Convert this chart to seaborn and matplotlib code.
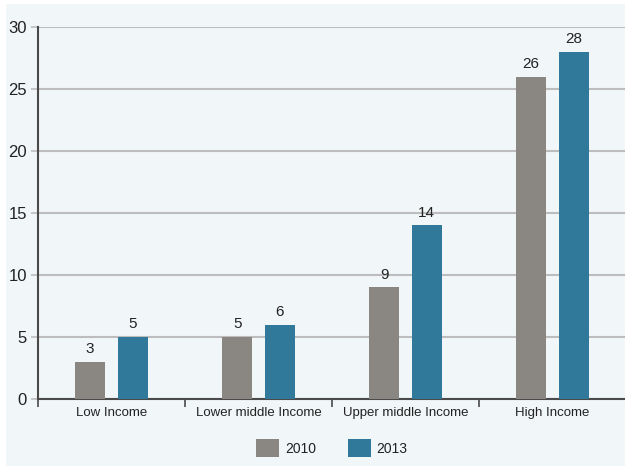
import matplotlib
matplotlib.use("Agg")
import matplotlib.pyplot as plt
from matplotlib.patches import Patch, Rectangle
import numpy as np
import pandas as pd
import seaborn as sns

# Data
groups = ["Low Income", "Lower middle Income", "Upper middle Income", "High Income"]
years = ["2010", "2013"]
values_2010 = [3, 5, 9, 26]
values_2013 = [5, 6, 14, 28]

colors = ["#8a8782", "#31799b"]
bg = "#f1f6f9"

df = pd.DataFrame({
    "group": groups * 2,
    "year": [years[0]] * len(groups) + [years[1]] * len(groups),
    "value": values_2010 + values_2013,
})

sns.set_theme(style="white")
plt.rcParams["font.family"] = ["Liberation Sans", "DejaVu Sans"]

fig = plt.figure(figsize=(6.25, 4.66), dpi=100, facecolor="white")
fig.patches.append(Rectangle((6 / 625, 0), 1, 462 / 466, transform=fig.transFigure,
                             facecolor=bg, edgecolor="none", zorder=-10))

ax = fig.add_axes([38 / 625, 1 - 399 / 466, 588 / 625, (399 - 27) / 466])
ax.set_facecolor(bg)

sns.barplot(data=df, x="group", y="value", hue="year", order=groups, hue_order=years,
            palette=colors, width=0.58, gap=0.31, saturation=1, legend=False,
            linewidth=0, edgecolor="none", ax=ax, zorder=3)

for cont in ax.containers:
    ax.bar_label(cont, fmt="%d", padding=4, fontsize=11, color="#222222")

ax.set_xlim(-0.5, 3.5)
ax.set_ylim(0, 30)
ax.set_yticks(np.arange(0, 31, 5))
ax.set_xlabel("")
ax.set_ylabel("")

ax.yaxis.grid(True, color="#bdbdbd", linewidth=1.5, zorder=0)
ax.set_axisbelow(True)

for s in ["top", "right"]:
    ax.spines[s].set_visible(False)
ax.spines["left"].set_color("#4a4a4a")
ax.spines["left"].set_linewidth(1.5)
ax.spines["bottom"].set_color("#4a4a4a")
ax.spines["bottom"].set_linewidth(1.5)

ax.tick_params(axis="y", which="major", length=5, width=1.2, color="#bdbdbd",
               labelsize=12, pad=3, labelcolor="#222222", left=True)
ax.tick_params(axis="x", which="major", length=0, labelsize=9.5, pad=6,
               labelcolor="#222222")
ax.set_xticks([-0.5, 0.5, 1.5, 2.5], minor=True)
ax.tick_params(axis="x", which="minor", length=6, width=1.2, color="#4a4a4a",
               bottom=True, direction="out")

handles = [Patch(facecolor=c, edgecolor="none", label=y) for c, y in zip(colors, years)]
fig.legend(handles=handles, loc="center", bbox_to_anchor=(332 / 625, 1 - 448 / 466),
           ncol=2, frameon=False, fontsize=10, handlelength=1.66, handleheight=1.66,
           handletextpad=0.4, columnspacing=2.3, labelcolor="#222222")

fig.savefig("out.png", dpi=100, facecolor="white")
